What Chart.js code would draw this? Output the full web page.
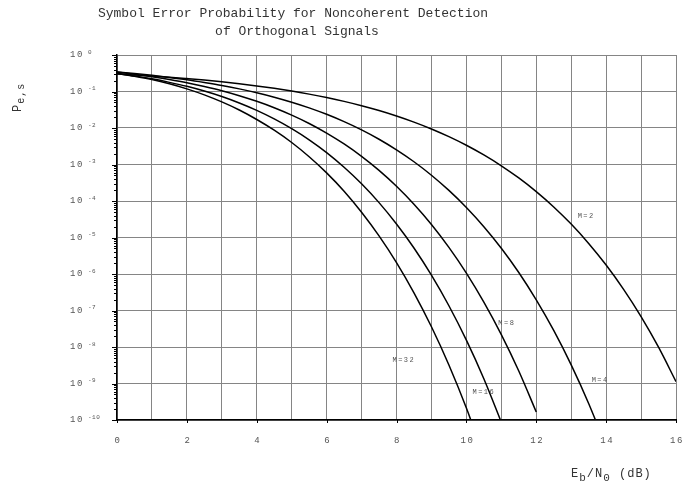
<!DOCTYPE html>
<html>
<head>
<meta charset="utf-8">
<script src="https://cdn.jsdelivr.net/npm/chart.js@4.4.1/dist/chart.umd.min.js"></script>
<style>
  html, body { margin: 0; padding: 0; background: #fff; }
</style>
</head>
<body>
<canvas id="peChart" width="685" height="485"></canvas>
<script>
// Eb/N0 (dB), half-dB steps
var ebN0 = [0, 0.5, 1, 1.5, 2, 2.5, 3, 3.5, 4, 4.5, 5, 5.5, 6, 6.5, 7, 7.5,
            8, 8.5, 9, 9.5, 10, 10.5, 11, 11.5, 12, 12.5, 13, 13.5, 14, 14.5, 15, 15.5, 16];

// symbol error probability, one array per M (starting at 0 dB)
var pe2 = [0.303, 0.285, 0.266, 0.247, 0.226, 0.2055, 0.184, 0.163, 0.142, 0.122, 0.103, 0.0848,
           0.0683, 0.0536, 0.0408, 0.0301, 0.0213, 0.0145, 0.00942, 0.0058, 0.00337, 0.00183,
           9.23e-4, 4.28e-4, 1.81e-4, 6.88e-5, 2.33e-5, 6.88e-6, 1.76e-6, 3.79e-7, 6.8e-8, 9.87e-9, 1.13e-9];
var pe4 = [0.344, 0.311, 0.277, 0.243, 0.210, 0.177, 0.147, 0.118, 0.0924, 0.0699, 0.0509, 0.0356,
           0.0237, 0.0149, 0.00887, 0.00492, 0.00252, 0.00119, 5.09e-4, 1.95e-4, 6.65e-5, 1.98e-5,
           5.08e-6, 1.10e-6, 1.96e-7, 2.84e-8, 3.23e-9, 2.84e-10, 1.85e-11];
var pe8 = [0.341, 0.298, 0.255, 0.213, 0.174, 0.137, 0.105, 0.0768, 0.0538, 0.0359, 0.0225, 0.0133,
           0.00725, 0.00365, 0.00167, 6.89e-4, 2.53e-4, 8.14e-5, 2.27e-5, 5.36e-6, 1.06e-6, 1.70e-7,
           2.19e-8, 2.20e-9, 1.66e-10];
var pe16 = [0.315, 0.268, 0.222, 0.178, 0.139, 0.103, 0.0729, 0.0486, 0.0305, 0.0178, 0.00961, 0.00475,
            0.00212, 8.41e-4, 2.96e-4, 9.03e-5, 2.35e-5, 5.17e-6, 9.31e-7, 1.35e-7, 1.54e-8, 1.35e-9, 8.7e-11];
var pe32 = [0.310, 0.262, 0.213, 0.163, 0.118, 0.0809, 0.0518, 0.0311, 0.0171, 0.00871, 0.0040, 0.00163,
            5.90e-4, 1.86e-4, 4.93e-5, 1.11e-5, 2.06e-6, 3.06e-7, 3.59e-8, 3.22e-9, 2.13e-10, 1.0e-11];

// axes
var decades = [1, 1e-1, 1e-2, 1e-3, 1e-4, 1e-5, 1e-6, 1e-7, 1e-8, 1e-9, 1e-10];
var decadeExp = ['0', '-1', '-2', '-3', '-4', '-5', '-6', '-7', '-8', '-9', '-10'];
var xGrid = [0, 1, 2, 3, 4, 5, 6, 7, 8, 9, 10, 11, 12, 13, 14, 15, 16];
var xTickLabels = [0, 2, 4, 6, 8, 10, 12, 14, 16];

// curve labels, placed in data units
var curveNames = ['M=2', 'M=4', 'M=8', 'M=16', 'M=32'];
var curveNameX = [13.43, 13.83, 11.16, 10.5, 8.21];
var curveNameY = [3.8e-5, 1.2e-9, 4.5e-8, 5.9e-10, 4.4e-9];

var titleLines = ['Symbol Error Probability for Noncoherent Detection', 'of Orthogonal Signals'];

var MONO = '"Liberation Mono", "DejaVu Sans Mono", monospace';

function toPoints(vals) {
    return vals.map(function (v, i) { return { x: ebN0[i], y: v }; });
}

function curve(vals) {
    return {
        data: toPoints(vals),
        borderColor: '#000',
        borderWidth: 1.5,
        pointRadius: 0,
        fill: false,
        cubicInterpolationMode: 'monotone'
    };
}

// draws text pieces one after another (for subscripts)
function drawParts(ctx, parts, x, y) {
    parts.forEach(function (p) {
        ctx.font = p.font;
        ctx.fillText(p.t, x, y + p.dy);
        x += ctx.measureText(p.t).width;
    });
}

var decorPlugin = {
    id: 'decor',
    afterDraw: function (chart) {
        var ctx = chart.ctx;
        var xs = chart.scales.x, ys = chart.scales.y;
        var area = chart.chartArea;
        ctx.save();

        // title
        ctx.fillStyle = '#333';
        ctx.textAlign = 'center';
        ctx.textBaseline = 'middle';
        ctx.font = '13px ' + MONO;
        ctx.fillText(titleLines[0], 293, 14);
        ctx.fillText(titleLines[1], 297, 32);

        // y tick marks: decades and 2..9 in between
        ctx.strokeStyle = '#000';
        ctx.lineWidth = 1;
        ctx.beginPath();
        decades.forEach(function (v, i) {
            var py = Math.round(ys.getPixelForValue(v)) + 0.5;
            ctx.moveTo(area.left - 5, py);
            ctx.lineTo(area.left, py);
            if (i < decades.length - 1) {
                for (var k = 2; k <= 9; k++) {
                    var my = Math.round(ys.getPixelForValue(k * decades[i + 1])) + 0.5;
                    ctx.moveTo(area.left - 3, my);
                    ctx.lineTo(area.left, my);
                }
            }
        });
        // x tick marks at labelled positions
        xTickLabels.forEach(function (v) {
            var px = Math.round(xs.getPixelForValue(v)) + 0.5;
            ctx.moveTo(px, area.bottom);
            ctx.lineTo(px, area.bottom + 3);
        });
        ctx.stroke();

        // y tick labels: 10 with superscript exponent
        ctx.fillStyle = '#555';
        ctx.textAlign = 'left';
        ctx.textBaseline = 'middle';
        decades.forEach(function (v, i) {
            var py = ys.getPixelForValue(v);
            ctx.letterSpacing = '1.5px';
            ctx.font = '9px ' + MONO;
            ctx.fillText('10', 70, py);
            ctx.letterSpacing = '0.5px';
            ctx.font = '6px ' + MONO;
            ctx.fillText(decadeExp[i], 88, py - 3);
        });

        // x tick labels
        ctx.textAlign = 'center';
        ctx.letterSpacing = '1.5px';
        ctx.font = '9px ' + MONO;
        xTickLabels.forEach(function (v) {
            ctx.fillText(String(v), xs.getPixelForValue(v) + 1, 441);
        });

        // curve names
        ctx.font = '7px ' + MONO;
        ctx.letterSpacing = '1.5px';
        curveNames.forEach(function (name, i) {
            ctx.fillText(name, xs.getPixelForValue(curveNameX[i]), ys.getPixelForValue(curveNameY[i]));
        });

        // x axis title
        ctx.fillStyle = '#333';
        ctx.textAlign = 'left';
        ctx.textBaseline = 'alphabetic';
        ctx.letterSpacing = '1px';
        drawParts(ctx, [
            { t: 'E', font: '12px ' + MONO, dy: 0 },
            { t: 'b', font: '11px ' + MONO, dy: 4 },
            { t: '/N', font: '12px ' + MONO, dy: 0 },
            { t: '0', font: '11px ' + MONO, dy: 4 },
            { t: ' (dB)', font: '12px ' + MONO, dy: 0 }
        ], 571, 477);

        // y axis title, rotated
        ctx.translate(21, 112);
        ctx.rotate(-Math.PI / 2);
        drawParts(ctx, [
            { t: 'P', font: '12px ' + MONO, dy: 0 },
            { t: 'e,s', font: '10px ' + MONO, dy: 3 }
        ], 0, 0);

        ctx.restore();
    }
};

var ctx = document.getElementById('peChart').getContext('2d');
var chart = new Chart(ctx, {
    type: 'line',
    data: {
        datasets: [curve(pe2), curve(pe4), curve(pe8), curve(pe16), curve(pe32)]
    },
    options: {
        responsive: false,
        animation: false,
        devicePixelRatio: 1,
        layout: { padding: { top: 55, right: 9, bottom: 0, left: 0 } },
        plugins: {
            legend: { display: false },
            title: { display: false },
            tooltip: { enabled: false }
        },
        scales: {
            x: {
                type: 'linear',
                min: 0,
                max: 16,
                afterBuildTicks: function (s) { s.ticks = xGrid.map(function (v) { return { value: v }; }); },
                afterFit: function (s) { s.height = 65; },
                ticks: { display: false },
                grid: { color: '#858585', lineWidth: 1, drawTicks: false },
                border: { color: '#000', width: 1.5 }
            },
            y: {
                type: 'logarithmic',
                min: 1e-10,
                max: 1,
                afterBuildTicks: function (s) { s.ticks = decades.map(function (v) { return { value: v }; }); },
                afterFit: function (s) { s.width = 117; },
                ticks: { display: false },
                grid: { color: '#858585', lineWidth: 1, drawTicks: false },
                border: { color: '#000', width: 1.5 }
            }
        }
    },
    plugins: [decorPlugin]
});
</script>
</body>
</html>
